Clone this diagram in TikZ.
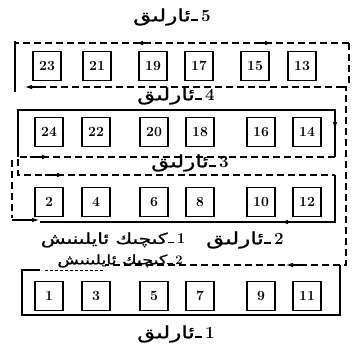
\documentclass[tikz,border=0pt]{standalone}
\usepackage{fontspec}
\TeXXeTstate=1
\newfontfamily\arabicfont[Script=Arabic,FakeStretch=1.35,FakeBold=1.2]{DejaVu Sans}
\usetikzlibrary{arrows.meta,decorations.markings}
\tikzset{
  box/.style={draw, line width=1.4pt, minimum width=28pt, minimum height=29pt, inner sep=0pt, font=\fontsize{14}{14}\selectfont\bfseries},
  dline/.style={line width=1.4pt, dash pattern=on 7pt off 4pt},
  sline/.style={line width=1.4pt},
  lbl/.style={inner sep=0pt, font=\fontsize{15}{17}\selectfont},
  big/.style={font=\fontsize{17}{19}\selectfont},
  arl/.style={-{Latex[length=8pt,width=4.5pt]}, line width=1.6pt},
}
\newcommand{\tw}{\rule[0.05em]{0.45em}{0.09em}}
\newcommand{\nm}[1]{\textbf{#1}}
\begin{document}
\begin{tikzpicture}[x=1pt,y=-1pt]
\useasboundingbox (0,0) rectangle (353,345);
% boxes
\foreach \n/\x in {23/47,21/97,19/153,17/199,15/255,13/302}{\node[box] (b\n) at (\x,66) {\n};}
\foreach \n/\x in {24/49,22/96,20/154,18/200,16/261,14/307}{\node[box] (b\n) at (\x,132) {\n};}
\foreach \n/\x in {2/49,4/96,6/154,8/200,10/261,12/307}{\node[box] (b\n) at (\x,202) {\n};}
\foreach \n/\x in {1/49,3/96,5/154,7/200,9/261,11/307}{\node[box] (b\n) at (\x,296) {\n};}
% titles
\node[lbl, big] (t5) at (172,17) {{\arabicfont\beginR ئارلىق\endR}\tw\,\nm{5}};
\node[lbl, big] (t4) at (176,96) {{\arabicfont\beginR ئارلىق\endR}\tw\,\nm{4}};
\node[lbl, big, fill=white, inner xsep=2pt] (t3) at (190,163) {{\arabicfont\beginR ئارلىق\endR}\tw\,\nm{3}};
\node[lbl] (s1) at (113,240) {{\arabicfont\beginR كىچىك ئايلىنىش\endR}\tw\,\nm{1}};
\node[lbl, big] (t2) at (245,240) {{\arabicfont\beginR ئارلىق\endR}\tw\,\nm{2}};
\node[lbl, font=\fontsize{13}{15}\selectfont] (s2) at (120,261) {{\arabicfont\beginR كىچىك ئايلىنىش\endR}\tw\,\nm{2}};
\node[lbl, big] (t1) at (176,334) {{\arabicfont\beginR ئارلىق\endR}\tw\,\nm{1}};
% aisle 5 loop
\coordinate (p1) at (349,43); \coordinate (p2) at (15,43);
\coordinate (p3) at (343,87); \coordinate (p4) at (24,87);
\draw[dline] (p1) -- (p2);
\draw[line width=2pt] (15,41) -- (15,92);
\draw[dline] (p3) -- (p4);
\draw[arl] (150,43) -- (135,43);
\draw[arl] (258,43) -- (273,43);
\draw[arl] (40,87) -- (24,87);
\draw[dline] (p1) -- (349,87);
% right long dashed
\coordinate (r1) at (346,87); \coordinate (r2) at (346,265); \coordinate (r3) at (105,265);
\draw[dline] (p3) -- (r1) -- (r2) -- (r3);
\draw[arl] (300,265) -- (285,265);
% aisle 4 frame
\draw[sline] (18,157) -- (18,110) -- (335,110) -- (335,157);
\draw[arl] (335,115) -- (335,130);
% aisle 3 loop
\draw[dline] (335,157) -- (18,157) -- (18,175) -- (335,175);
\draw[arl] (30,157) -- (50,157);
\draw[arl] (45,175) -- (65,175);
\draw[sline] (335,175) -- (335,222) -- (40,222);
\draw[arl] (295,222) -- (280,222);
\draw[dline] (12,160) -- (12,218);
\draw[arl] (12,220) -- (40,220);
% aisle 1 frame
\draw[line width=0.8pt, dash pattern=on 3pt off 2pt] (45,270) -- (105,270);
\draw[sline] (40,270) -- (22,270) -- (22,315) -- (340,315) -- (340,265);
\end{tikzpicture}
\end{document}
